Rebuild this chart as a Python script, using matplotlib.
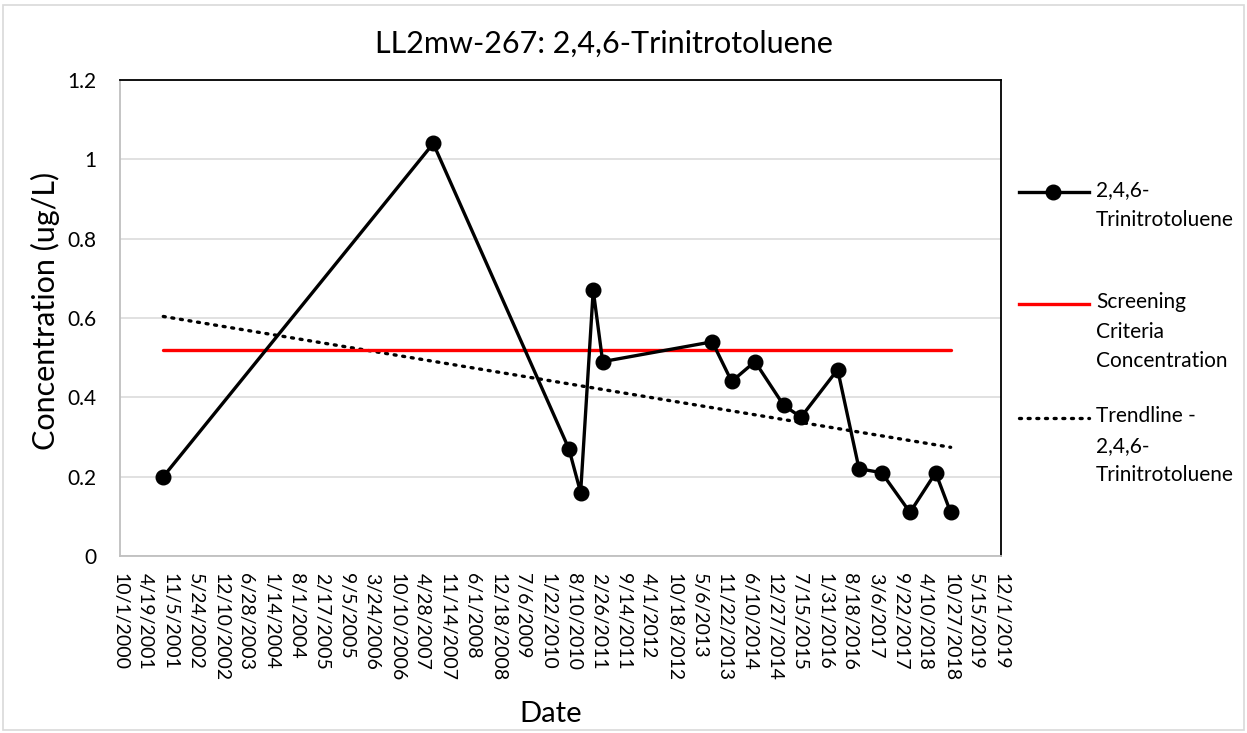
"""LL2mw-267: 2,4,6-Trinitrotoluene concentration over time."""

import matplotlib
matplotlib.use("Agg")
import matplotlib.pyplot as plt
import matplotlib.dates as mdates
from matplotlib.lines import Line2D
from matplotlib.patches import Rectangle
import numpy as np
import pandas as pd

plt.rcParams["font.family"] = ["Lato", "DejaVu Sans"]

# ── Data ──────────────────────────────────────────────────────────────────────
SAMPLE_DATES = [
    "2001-09-10", "2007-07-26", "2010-07-08", "2010-10-09", "2011-01-17",
    "2011-04-02", "2013-08-20", "2014-01-21", "2014-07-25", "2015-03-10",
    "2015-07-26", "2016-05-12", "2016-10-29", "2017-04-27", "2017-12-08",
    "2018-06-30", "2018-10-27",
]
TNT_CONC = [0.20, 1.04, 0.27, 0.16, 0.67, 0.49, 0.54, 0.44, 0.49, 0.38,
            0.35, 0.47, 0.22, 0.21, 0.11, 0.21, 0.11]
SCREENING_LEVEL = 0.52

AXIS_START = "2000-10-01"
AXIS_END = "2019-12-01"
TICK_STEP_DAYS = 200
Y_TICKS = [0, 0.2, 0.4, 0.6, 0.8, 1, 1.2]
Y_TICK_LABELS = ["0", "0.2", "0.4", "0.6", "0.8", "1", "1.2"]

LEGEND_LABELS = [
    "2,4,6-\nTrinitrotoluene",
    "Screening\nCriteria\nConcentration",
    "Trendline -\n2,4,6-\nTrinitrotoluene",
]

W, H = 1247, 733


def main() -> None:
    dates = pd.to_datetime(SAMPLE_DATES)
    conc = np.array(TNT_CONC)
    xnum = mdates.date2num(dates)

    # linear trendline (same as the spreadsheet trendline)
    slope, icpt = np.polyfit(xnum, conc, 1)
    trend_x = np.array([xnum[0], xnum[-1]])
    trend_y = slope * trend_x + icpt

    fig = plt.figure(figsize=(W / 100, H / 100), dpi=100)
    ax = fig.add_axes([120 / W, 1 - 556 / H, (1001 - 120) / W, (556 - 80) / H])

    ax.grid(axis="y", color="#d9d9d9", linewidth=1.1, zorder=0)

    dotted = (0, (0.6, 2.0))
    ax.plot(trend_x, trend_y, color="black", linestyle=dotted, linewidth=2.4,
            dash_capstyle="round", zorder=3)
    ax.plot([xnum[0], xnum[-1]], [SCREENING_LEVEL, SCREENING_LEVEL],
            color="#ff0000", linewidth=2.4, solid_capstyle="round", zorder=4)
    ax.plot(xnum, conc, color="black", linewidth=2.4, marker="o",
            markersize=10.5, zorder=5)

    # axes
    x0 = mdates.date2num(pd.Timestamp(AXIS_START))
    x1 = mdates.date2num(pd.Timestamp(AXIS_END))
    ax.set_xlim(x0, x1)
    ax.set_ylim(0, 1.2)

    ticks = pd.date_range(AXIS_START, AXIS_END, freq=f"{TICK_STEP_DAYS}D")
    ax.set_xticks(mdates.date2num(ticks))
    ax.set_xticklabels([f"{d.month}/{d.day}/{d.year}" for d in ticks],
                       rotation=270, va="top", ha="center", fontsize=14)
    ax.set_yticks(Y_TICKS)
    ax.set_yticklabels(Y_TICK_LABELS, fontsize=15)
    ax.tick_params(axis="x", length=0, pad=12)
    ax.tick_params(axis="y", length=0, pad=17)

    for side in ("top", "right"):
        ax.spines[side].set_color("black")
        ax.spines[side].set_linewidth(1.3)
    for side in ("left", "bottom"):
        ax.spines[side].set_color("#bfbfbf")
        ax.spines[side].set_linewidth(1.3)

    # titles
    fig.text(604 / W, 1 - 44 / H, "LL2mw-267: 2,4,6-Trinitrotoluene",
             fontsize=22, ha="center", va="center")
    fig.text(551 / W, 1 - 714 / H, "Date", fontsize=21, ha="center", va="center")
    fig.text(45 / W, 1 - 311 / H, "Concentration (ug/L)", fontsize=22,
             rotation=90, ha="center", va="center")

    # legend, drawn by hand so the handle sits on the first text line
    leg_y = [192, 304, 418]
    styles = [
        dict(color="black", linewidth=2.4, marker="o", markersize=10.5,
             markevery=[1]),
        dict(color="#ff0000", linewidth=2.4),
        dict(color="black", linewidth=2.4, linestyle=dotted,
             dash_capstyle="round"),
    ]
    for y, label, st in zip(leg_y, LEGEND_LABELS, styles):
        yf = 1 - y / H
        fig.add_artist(Line2D([1019 / W, 1053 / W, 1089 / W], [yf, yf, yf],
                              transform=fig.transFigure, **st))
        fig.text(1096 / W, 1 - (y - 12) / H, label, fontsize=15,
                 ha="left", va="top", multialignment="left", linespacing=1.6)

    # outer chart border
    fig.add_artist(Rectangle((3 / W, 3 / H), (W - 6) / W, (H - 8) / H,
                             transform=fig.transFigure, fill=False,
                             edgecolor="#d9d9d9", linewidth=1.2))

    fig.savefig("out.png", dpi=100)
    plt.close(fig)


if __name__ == "__main__":
    main()
